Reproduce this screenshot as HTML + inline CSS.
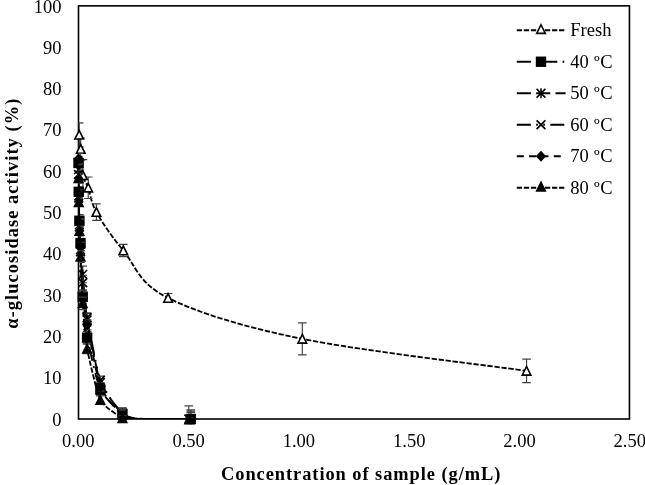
<!DOCTYPE html>
<html lang="en"><head><meta charset="utf-8"><title>α-glucosidase activity chart</title>
<style>html,body{margin:0;padding:0;background:#fff}body{width:645px;height:485px;overflow:hidden}svg{display:block}</style>
</head><body>
<svg width="645" height="485" viewBox="0 0 645 485">
<rect width="645" height="485" fill="#fff"/>
<defs><clipPath id="pc"><rect x="78.30" y="5.85" width="551.15" height="413.15"/></clipPath></defs>
<rect x="78.50" y="5.85" width="550.95" height="413.15" fill="none" stroke="#000" stroke-width="1.6"/>
<g>
<path clip-path="url(#pc)" d="M79.18 134.86C79.44 137.23 80.10 142.36 80.73 149.10C81.35 155.85 81.68 168.89 82.93 175.33C84.18 181.77 85.98 181.59 88.23 187.72C90.47 193.85 90.54 201.62 96.39 212.09C102.24 222.55 111.35 236.18 123.30 250.50C135.25 264.81 138.25 283.26 168.08 297.99C197.92 312.72 242.55 326.73 302.30 338.88C362.04 351.03 489.18 365.55 526.56 370.89" fill="none" stroke="#000" stroke-width="1.85" stroke-dasharray="5.28,1.76"/>
<path clip-path="url(#pc)" d="M79.18 122.88L79.18 146.83M74.88 122.88L83.48 122.88M74.88 146.83L83.48 146.83M80.73 137.95L80.73 160.26M76.43 137.95L85.03 137.95M76.43 160.26L85.03 160.26M82.93 159.64L82.93 191.02M78.63 159.64L87.23 159.64M78.63 191.02L87.23 191.02M88.23 176.98L88.23 198.46M83.93 176.98L92.53 176.98M83.93 198.46L92.53 198.46M96.39 203.83L96.39 220.35M92.09 203.83L100.69 203.83M92.09 220.35L100.69 220.35M123.30 244.30L123.30 256.69M119.00 244.30L127.60 244.30M119.00 256.69L127.60 256.69M168.08 293.45L168.08 302.53M163.78 293.45L172.38 293.45M163.78 302.53L172.38 302.53M302.30 322.94L302.30 354.82M298.00 322.94L306.60 322.94M298.00 354.82L306.60 354.82M526.56 359.11L526.56 382.66M522.26 359.11L530.86 359.11M522.26 382.66L530.86 382.66" fill="none" stroke="#404040" stroke-width="1.15"/>
<polygon points="79.18,130.46 83.48,139.06 74.88,139.06" fill="#fff" stroke="#000" stroke-width="1.6" stroke-linejoin="miter"/>
<polygon points="80.73,144.70 85.03,153.30 76.43,153.30" fill="#fff" stroke="#000" stroke-width="1.6" stroke-linejoin="miter"/>
<polygon points="82.93,170.93 87.23,179.53 78.63,179.53" fill="#fff" stroke="#000" stroke-width="1.6" stroke-linejoin="miter"/>
<polygon points="88.23,183.32 92.53,191.92 83.93,191.92" fill="#fff" stroke="#000" stroke-width="1.6" stroke-linejoin="miter"/>
<polygon points="96.39,207.69 100.69,216.29 92.09,216.29" fill="#fff" stroke="#000" stroke-width="1.6" stroke-linejoin="miter"/>
<polygon points="123.30,246.10 127.60,254.70 119.00,254.70" fill="#fff" stroke="#000" stroke-width="1.6" stroke-linejoin="miter"/>
<polygon points="168.08,293.59 172.38,302.19 163.78,302.19" fill="#fff" stroke="#000" stroke-width="1.6" stroke-linejoin="miter"/>
<polygon points="302.30,334.48 306.60,343.08 298.00,343.08" fill="#fff" stroke="#000" stroke-width="1.6" stroke-linejoin="miter"/>
<polygon points="526.56,366.49 530.86,375.09 522.26,375.09" fill="#fff" stroke="#000" stroke-width="1.6" stroke-linejoin="miter"/>
</g>
<g>
<path clip-path="url(#pc)" d="M78.52 162.94C78.54 165.57 78.66 186.59 78.74 191.85C78.82 197.11 79.24 216.10 79.40 220.76C79.56 225.42 80.21 236.15 80.51 243.06C80.81 249.97 82.11 288.15 82.71 296.75C83.31 305.35 85.52 329.19 87.12 337.64C88.73 346.09 97.15 382.73 100.36 389.68C103.57 396.62 119.01 411.41 122.42 414.04C125.83 416.68 131.65 418.25 137.86 418.70C144.08 419.15 185.99 418.97 190.81 419.00" fill="none" stroke="#000" stroke-width="1.85" stroke-dasharray="14.08,5.28,1.76,5.28"/>
<path clip-path="url(#pc)" d="M78.52 156.75L78.52 169.13M74.22 156.75L82.82 156.75M74.22 169.13L82.82 169.13M78.74 186.89L78.74 196.81M74.44 186.89L83.04 186.89M74.44 196.81L83.04 196.81M79.40 214.56L79.40 226.95M75.10 214.56L83.70 214.56M75.10 226.95L83.70 226.95M80.51 238.93L80.51 247.19M76.21 238.93L84.81 238.93M76.21 247.19L84.81 247.19M82.71 290.14L82.71 303.36M78.41 290.14L87.01 290.14M78.41 303.36L87.01 303.36M87.12 331.44L87.12 343.83M82.82 331.44L91.42 331.44M82.82 343.83L91.42 343.83M100.36 384.72L100.36 394.63M96.06 384.72L104.66 384.72M96.06 394.63L104.66 394.63M122.42 407.85L122.42 420.24M118.12 407.85L126.72 407.85M118.12 420.24L126.72 420.24M190.81 409.91L190.81 428.09M186.51 409.91L195.11 409.91M186.51 428.09L195.11 428.09" fill="none" stroke="#404040" stroke-width="1.15"/>
<rect x="73.32" y="157.74" width="10.4" height="10.4" fill="#000"/>
<rect x="73.54" y="186.65" width="10.4" height="10.4" fill="#000"/>
<rect x="74.20" y="215.56" width="10.4" height="10.4" fill="#000"/>
<rect x="75.31" y="237.86" width="10.4" height="10.4" fill="#000"/>
<rect x="77.51" y="291.55" width="10.4" height="10.4" fill="#000"/>
<rect x="81.92" y="332.44" width="10.4" height="10.4" fill="#000"/>
<rect x="95.16" y="384.48" width="10.4" height="10.4" fill="#000"/>
<rect x="117.22" y="408.84" width="10.4" height="10.4" fill="#000"/>
<rect x="185.61" y="413.80" width="10.4" height="10.4" fill="#000"/>
</g>
<g>
<path clip-path="url(#pc)" d="M78.52 169.55C78.54 171.95 78.66 190.95 78.74 195.98C78.82 201.01 79.24 220.01 79.40 224.89C79.56 229.77 80.21 245.16 80.51 249.67C80.81 254.18 82.11 268.07 82.71 274.45C83.31 280.83 85.52 310.04 87.12 319.88C88.73 329.72 97.15 374.17 100.36 382.66C103.57 391.14 119.01 409.95 122.42 413.22C125.83 416.49 131.83 418.13 137.86 418.65C143.90 419.18 184.19 418.97 188.82 419.00" fill="none" stroke="#000" stroke-width="1.85" stroke-dasharray="14.08,5.28"/>
<path clip-path="url(#pc)" d="M78.52 164.59L78.52 174.50M74.22 164.59L82.82 164.59M74.22 174.50L82.82 174.50M78.74 191.85L78.74 200.11M74.44 191.85L83.04 191.85M74.44 200.11L83.04 200.11M79.40 219.52L79.40 230.26M75.10 219.52L83.70 219.52M75.10 230.26L83.70 230.26M80.51 244.71L80.51 254.63M76.21 244.71L84.81 244.71M76.21 254.63L84.81 254.63M82.71 266.19L82.71 282.71M78.41 266.19L87.01 266.19M78.41 282.71L87.01 282.71M87.12 313.69L87.12 326.07M82.82 313.69L91.42 313.69M82.82 326.07L91.42 326.07M100.36 378.53L100.36 386.79M96.06 378.53L104.66 378.53M96.06 386.79L104.66 386.79M122.42 408.26L122.42 418.17M118.12 408.26L126.72 408.26M118.12 418.17L126.72 418.17M188.82 405.91L188.82 432.09M184.52 405.91L193.12 405.91M184.52 432.09L193.12 432.09" fill="none" stroke="#404040" stroke-width="1.15"/>
<path d="M74.12 165.15L82.92 173.95M74.12 173.95L82.92 165.15M78.52 164.55L78.52 174.55" stroke="#000" stroke-width="1.5" fill="none"/>
<path d="M74.34 191.58L83.14 200.38M74.34 200.38L83.14 191.58M78.74 190.98L78.74 200.98" stroke="#000" stroke-width="1.5" fill="none"/>
<path d="M75.00 220.49L83.80 229.29M75.00 229.29L83.80 220.49M79.40 219.89L79.40 229.89" stroke="#000" stroke-width="1.5" fill="none"/>
<path d="M76.11 245.27L84.91 254.07M76.11 254.07L84.91 245.27M80.51 244.67L80.51 254.67" stroke="#000" stroke-width="1.5" fill="none"/>
<path d="M78.31 270.05L87.11 278.85M78.31 278.85L87.11 270.05M82.71 269.45L82.71 279.45" stroke="#000" stroke-width="1.5" fill="none"/>
<path d="M82.72 315.48L91.52 324.28M82.72 324.28L91.52 315.48M87.12 314.88L87.12 324.88" stroke="#000" stroke-width="1.5" fill="none"/>
<path d="M95.96 378.26L104.76 387.06M95.96 387.06L104.76 378.26M100.36 377.66L100.36 387.66" stroke="#000" stroke-width="1.5" fill="none"/>
<path d="M118.02 408.82L126.82 417.62M118.02 417.62L126.82 408.82M122.42 408.22L122.42 418.22" stroke="#000" stroke-width="1.5" fill="none"/>
<path d="M184.42 414.60L193.22 423.40M184.42 423.40L193.22 414.60M188.82 414.00L188.82 424.00" stroke="#000" stroke-width="1.5" fill="none"/>
</g>
<g>
<path clip-path="url(#pc)" d="M78.52 174.50C78.54 176.64 78.66 193.28 78.74 198.05C78.82 202.81 79.24 222.07 79.40 226.96C79.56 231.84 80.21 246.67 80.51 251.74C80.81 256.80 82.11 276.70 82.71 282.71C83.31 288.72 85.52 308.95 87.12 317.81C88.73 326.68 97.15 371.35 100.36 380.18C103.57 389.00 119.01 411.36 122.42 414.87C125.83 418.38 131.65 418.38 137.86 418.75C144.08 419.13 185.99 418.98 190.81 419.00" fill="none" stroke="#000" stroke-width="1.85" stroke-dasharray="14.08,5.28,1.76,5.28,1.76,5.28"/>
<path clip-path="url(#pc)" d="M78.52 170.37L78.52 178.63M74.22 170.37L82.82 170.37M74.22 178.63L82.82 178.63M78.74 193.92L78.74 202.18M74.44 193.92L83.04 193.92M74.44 202.18L83.04 202.18M79.40 222.83L79.40 231.09M75.10 222.83L83.70 222.83M75.10 231.09L83.70 231.09M80.51 245.54L80.51 257.93M76.21 245.54L84.81 245.54M76.21 257.93L84.81 257.93M82.71 275.28L82.71 290.14M78.41 275.28L87.01 275.28M78.41 290.14L87.01 290.14M87.12 312.86L87.12 322.77M82.82 312.86L91.42 312.86M82.82 322.77L91.42 322.77M100.36 376.05L100.36 384.31M96.06 376.05L104.66 376.05M96.06 384.31L104.66 384.31M122.42 410.74L122.42 419.00M118.12 410.74L126.72 410.74M118.12 419.00L126.72 419.00M190.81 411.15L190.81 426.85M186.51 411.15L195.11 411.15M186.51 426.85L195.11 426.85" fill="none" stroke="#404040" stroke-width="1.15"/>
<path d="M74.12 170.10L82.92 178.90M74.12 178.90L82.92 170.10" stroke="#000" stroke-width="1.7" fill="none"/>
<path d="M74.34 193.65L83.14 202.45M74.34 202.45L83.14 193.65" stroke="#000" stroke-width="1.7" fill="none"/>
<path d="M75.00 222.56L83.80 231.36M75.00 231.36L83.80 222.56" stroke="#000" stroke-width="1.7" fill="none"/>
<path d="M76.11 247.34L84.91 256.13M76.11 256.13L84.91 247.34" stroke="#000" stroke-width="1.7" fill="none"/>
<path d="M78.31 278.31L87.11 287.11M78.31 287.11L87.11 278.31" stroke="#000" stroke-width="1.7" fill="none"/>
<path d="M82.72 313.42L91.52 322.21M82.72 322.21L91.52 313.42" stroke="#000" stroke-width="1.7" fill="none"/>
<path d="M95.96 375.78L104.76 384.58M95.96 384.58L104.76 375.78" stroke="#000" stroke-width="1.7" fill="none"/>
<path d="M118.02 410.47L126.82 419.27M118.02 419.27L126.82 410.47" stroke="#000" stroke-width="1.7" fill="none"/>
<path d="M186.41 414.60L195.21 423.40M186.41 423.40L195.21 414.60" stroke="#000" stroke-width="1.7" fill="none"/>
</g>
<g>
<path clip-path="url(#pc)" d="M78.52 158.81C78.54 162.00 78.66 188.10 78.74 193.91C78.82 199.73 79.24 218.06 79.40 222.83C79.56 227.59 80.21 239.53 80.51 246.37C80.81 253.20 82.11 290.86 82.71 297.99C83.31 305.12 85.52 316.76 87.12 324.84C88.73 332.91 97.15 378.53 100.36 386.79C103.57 395.05 119.01 412.79 122.42 415.70C125.83 418.61 131.65 418.46 137.86 418.80C144.08 419.14 185.99 419.36 190.81 419.41" fill="none" stroke="#000" stroke-width="1.85" stroke-dasharray="7.04,5.28"/>
<path clip-path="url(#pc)" d="M78.52 153.44L78.52 164.18M74.22 153.44L82.82 153.44M74.22 164.18L82.82 164.18M78.74 189.78L78.74 198.04M74.44 189.78L83.04 189.78M74.44 198.04L83.04 198.04M79.40 218.70L79.40 226.96M75.10 218.70L83.70 218.70M75.10 226.96L83.70 226.96M80.51 242.24L80.51 250.50M76.21 242.24L84.81 242.24M76.21 250.50L84.81 250.50M82.71 291.80L82.71 304.19M78.41 291.80L87.01 291.80M78.41 304.19L87.01 304.19M87.12 319.88L87.12 329.79M82.82 319.88L91.42 319.88M82.82 329.79L91.42 329.79M100.36 382.66L100.36 390.92M96.06 382.66L104.66 382.66M96.06 390.92L104.66 390.92M122.42 409.09L122.42 422.30M118.12 409.09L126.72 409.09M118.12 422.30L126.72 422.30M190.81 412.39L190.81 426.43M186.51 412.39L195.11 412.39M186.51 426.43L195.11 426.43" fill="none" stroke="#404040" stroke-width="1.15"/>
<polygon points="78.52,153.41 83.62,158.81 78.52,164.21 73.42,158.81" fill="#000"/>
<polygon points="78.74,188.51 83.84,193.91 78.74,199.31 73.64,193.91" fill="#000"/>
<polygon points="79.40,217.43 84.50,222.83 79.40,228.23 74.30,222.83" fill="#000"/>
<polygon points="80.51,240.97 85.61,246.37 80.51,251.77 75.41,246.37" fill="#000"/>
<polygon points="82.71,292.59 87.81,297.99 82.71,303.39 77.61,297.99" fill="#000"/>
<polygon points="87.12,319.44 92.22,324.84 87.12,330.24 82.02,324.84" fill="#000"/>
<polygon points="100.36,381.39 105.46,386.79 100.36,392.19 95.26,386.79" fill="#000"/>
<polygon points="122.42,410.30 127.52,415.70 122.42,421.10 117.32,415.70" fill="#000"/>
<polygon points="190.81,414.01 195.91,419.41 190.81,424.81 185.71,419.41" fill="#000"/>
</g>
<g>
<path clip-path="url(#pc)" d="M78.52 178.22C78.54 180.40 78.66 197.37 78.74 202.18C78.82 206.98 79.24 226.13 79.40 231.09C79.56 236.04 80.21 250.12 80.51 256.69C80.81 263.26 82.11 294.99 82.71 303.36C83.31 311.73 85.52 340.00 87.12 348.79C88.73 357.58 97.15 393.69 100.36 400.00C103.57 406.31 119.01 416.45 122.42 418.17C125.83 419.90 131.79 418.84 137.86 418.95C143.94 419.06 184.59 419.37 189.26 419.41" fill="none" stroke="#000" stroke-width="1.85" stroke-dasharray="5.28,1.76"/>
<path clip-path="url(#pc)" d="M78.52 173.27L78.52 183.18M74.22 173.27L82.82 173.27M74.22 183.18L82.82 183.18M78.74 198.05L78.74 206.31M74.44 198.05L83.04 198.05M74.44 206.31L83.04 206.31M79.40 226.13L79.40 236.04M75.10 226.13L83.70 226.13M75.10 236.04L83.70 236.04M80.51 250.91L80.51 262.47M76.21 250.91L84.81 250.91M76.21 262.47L84.81 262.47M82.71 297.17L82.71 309.56M78.41 297.17L87.01 297.17M78.41 309.56L87.01 309.56M87.12 343.83L87.12 353.75M82.82 343.83L91.42 343.83M82.82 353.75L91.42 353.75M100.36 395.87L100.36 404.13M96.06 395.87L104.66 395.87M96.06 404.13L104.66 404.13M122.42 415.70L122.42 420.65M118.12 415.70L126.72 415.70M118.12 420.65L126.72 420.65M189.26 417.76L189.26 421.06M184.96 417.76L193.56 417.76M184.96 421.06L193.56 421.06" fill="none" stroke="#404040" stroke-width="1.15"/>
<polygon points="78.52,173.82 82.82,182.42 74.22,182.42" fill="#000" stroke="#000" stroke-width="1.6" stroke-linejoin="miter"/>
<polygon points="78.74,197.78 83.04,206.38 74.44,206.38" fill="#000" stroke="#000" stroke-width="1.6" stroke-linejoin="miter"/>
<polygon points="79.40,226.69 83.70,235.28 75.10,235.28" fill="#000" stroke="#000" stroke-width="1.6" stroke-linejoin="miter"/>
<polygon points="80.51,252.29 84.81,260.89 76.21,260.89" fill="#000" stroke="#000" stroke-width="1.6" stroke-linejoin="miter"/>
<polygon points="82.71,298.96 87.01,307.56 78.41,307.56" fill="#000" stroke="#000" stroke-width="1.6" stroke-linejoin="miter"/>
<polygon points="87.12,344.39 91.42,352.99 82.82,352.99" fill="#000" stroke="#000" stroke-width="1.6" stroke-linejoin="miter"/>
<polygon points="100.36,395.60 104.66,404.20 96.06,404.20" fill="#000" stroke="#000" stroke-width="1.6" stroke-linejoin="miter"/>
<polygon points="122.42,413.77 126.72,422.37 118.12,422.37" fill="#000" stroke="#000" stroke-width="1.6" stroke-linejoin="miter"/>
<polygon points="189.26,415.01 193.56,423.61 184.96,423.61" fill="#000" stroke="#000" stroke-width="1.6" stroke-linejoin="miter"/>
</g>
<g font-family="'Liberation Serif', 'Times New Roman', serif" font-size="18.5" fill="#000">
<text x="61.4" y="425.50" text-anchor="end">0</text>
<text x="61.4" y="384.20" text-anchor="end">10</text>
<text x="61.4" y="342.90" text-anchor="end">20</text>
<text x="61.4" y="301.60" text-anchor="end">30</text>
<text x="61.4" y="260.30" text-anchor="end">40</text>
<text x="61.4" y="219.00" text-anchor="end">50</text>
<text x="61.4" y="177.70" text-anchor="end">60</text>
<text x="61.4" y="136.40" text-anchor="end">70</text>
<text x="61.4" y="95.10" text-anchor="end">80</text>
<text x="61.4" y="53.80" text-anchor="end">90</text>
<text x="61.4" y="12.50" text-anchor="end">100</text>
<text x="78.30" y="446.8" text-anchor="middle">0.00</text>
<text x="188.60" y="446.8" text-anchor="middle">0.50</text>
<text x="298.90" y="446.8" text-anchor="middle">1.00</text>
<text x="409.20" y="446.8" text-anchor="middle">1.50</text>
<text x="519.50" y="446.8" text-anchor="middle">2.00</text>
<text x="629.80" y="446.8" text-anchor="middle">2.50</text>
<path d="M516.8 30.25H565.6" fill="none" stroke="#000" stroke-width="1.85" stroke-dasharray="5.28,1.76"/>
<polygon points="541.00,24.75 545.30,33.35 536.70,33.35" fill="#fff" stroke="#000" stroke-width="1.6" stroke-linejoin="miter"/>
<text x="570.3" y="36.45">Fresh</text>
<path d="M516.8 61.75H565.6" fill="none" stroke="#000" stroke-width="1.85" stroke-dasharray="14.08,5.28,1.76,5.28"/>
<rect x="535.80" y="56.55" width="10.4" height="10.4" fill="#000"/>
<text x="570.3" y="67.95">40 <tspan dx="0.5">º</tspan><tspan dx="0.6">C</tspan></text>
<path d="M516.8 93.25H565.6" fill="none" stroke="#000" stroke-width="1.85" stroke-dasharray="14.08,5.28"/>
<path d="M536.60 88.85L545.40 97.65M536.60 97.65L545.40 88.85M541.00 88.25L541.00 98.25" stroke="#000" stroke-width="1.5" fill="none"/>
<text x="570.3" y="99.45">50 <tspan dx="0.5">º</tspan><tspan dx="0.6">C</tspan></text>
<path d="M516.8 124.75H565.6" fill="none" stroke="#000" stroke-width="1.85" stroke-dasharray="14.08,5.28,1.76,5.28,1.76,5.28"/>
<path d="M536.60 120.35L545.40 129.15M536.60 129.15L545.40 120.35" stroke="#000" stroke-width="1.7" fill="none"/>
<text x="570.3" y="130.95">60 <tspan dx="0.5">º</tspan><tspan dx="0.6">C</tspan></text>
<path d="M516.8 156.25H565.6" fill="none" stroke="#000" stroke-width="1.85" stroke-dasharray="7.04,5.28"/>
<polygon points="541.00,150.85 546.10,156.25 541.00,161.65 535.90,156.25" fill="#000"/>
<text x="570.3" y="162.45">70 <tspan dx="0.5">º</tspan><tspan dx="0.6">C</tspan></text>
<path d="M516.8 187.75H565.6" fill="none" stroke="#000" stroke-width="1.85" stroke-dasharray="5.28,1.76"/>
<polygon points="541.00,182.25 545.30,190.85 536.70,190.85" fill="#000" stroke="#000" stroke-width="1.6" stroke-linejoin="miter"/>
<text x="570.3" y="193.95">80 <tspan dx="0.5">º</tspan><tspan dx="0.6">C</tspan></text>
</g>
<g font-family="'Liberation Serif', 'Times New Roman', serif" font-size="18.4" font-weight="bold" letter-spacing="0.95" fill="#000">
<text id="xt" x="361.2" y="479.7" text-anchor="middle">Concentration of sample (g/mL)</text>
<text id="yt" letter-spacing="1.07" transform="translate(17.8 213.2) rotate(-90)" text-anchor="middle">α-glucosidase activity (%)</text>
</g>
</svg>
</body></html>
